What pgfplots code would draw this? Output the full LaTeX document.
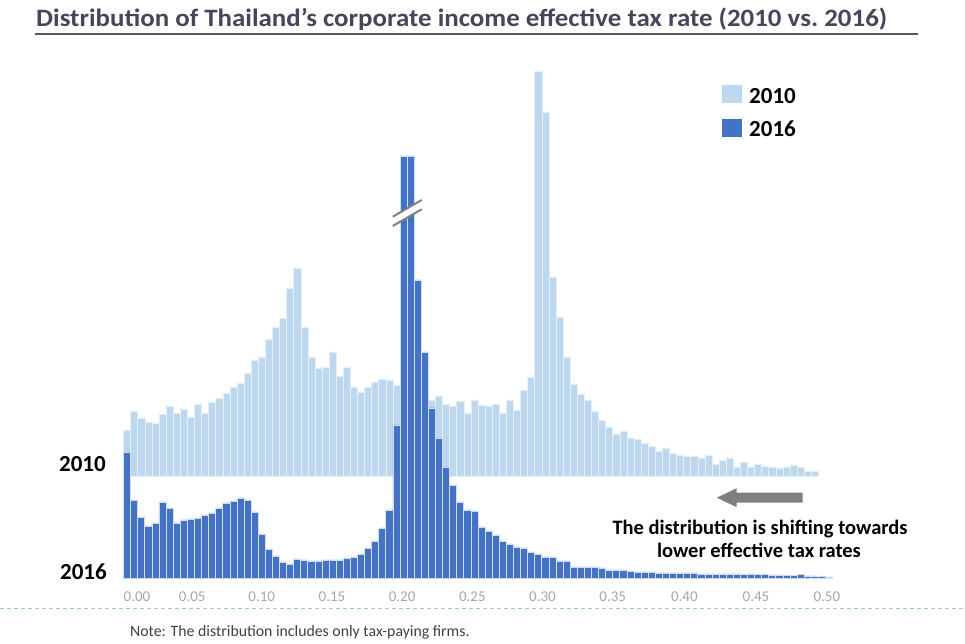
\documentclass[border=0pt]{standalone}
\usepackage{pgfplots}
\pgfplotsset{compat=1.18}
\usepackage{pgfplotstable}
\usepackage{fontspec}
\setmainfont{Carlito}
\definecolor{lightbar}{HTML}{BDD7EE}
\definecolor{darkbar}{HTML}{4472C4}
\definecolor{titlecol}{HTML}{44475A}
\definecolor{tickcol}{HTML}{A6A6A6}
\definecolor{dashcol}{HTML}{9DC3E6}
\definecolor{arrowcol}{HTML}{7F7F7F}

% bin index, height (2010)
\pgfplotstableread{
k h
0 46
1 65
2 58
3 54
4 53
5 62
6 70
7 63
8 67
9 59
10 72
11 63
12 74
13 78
14 83
15 89
16 93
17 103
18 116
19 119
20 137
21 149
22 158
23 188
24 208
25 149
26 119
27 108
28 109
29 124
30 100
31 109
32 89
33 84
34 89
35 94
36 97
37 96
38 91
39 88
40 86
41 84
42 80
43 76
44 80
45 72
46 70
47 75
48 63
49 76
50 71
51 70
52 72
53 63
54 76
55 66
56 86
57 99
58 405
59 364
60 199
61 159
62 119
63 92
64 82
65 76
66 65
67 56
68 49
69 42
70 45
71 38
72 37
73 33
74 30
75 25
76 28
77 23
78 21
79 20
80 20
81 18
82 21
83 12
84 16
85 18
86 9
87 14
88 9
89 12
90 10
91 9
92 8
93 9
94 11
95 9
96 5
97 5
}\tenten

% bin index, height (2016)
\pgfplotstableread{
k h
0 126
1 78
2 61
3 52
4 55
5 76
6 70
7 55
8 58
9 59
10 60
11 63
12 65
13 70
14 75
15 77
16 80
17 78
18 66
19 44
20 29
21 22
22 16
23 14
24 19
25 18
26 17
27 17
28 18
29 18
30 18
31 20
32 21
33 24
34 30
35 37
36 50
37 68
38 153
39 422
40 422
41 298
42 226
43 170
44 140
45 111
46 93
47 76
48 68
49 67
50 51
51 47
52 43
53 37
54 34
55 31
56 30
57 26
58 24
59 21
60 21
61 17
62 17
63 11
64 11
65 11
66 11
67 10
68 8
69 8
70 8
71 7
72 6
73 6
74 6
75 5
76 5
77 5
78 5
79 5
80 5
81 4
82 4
83 4
84 4
85 4
86 4
87 3.5
88 4
89 3.5
90 3.5
91 3
92 3
93 2.5
94 2.5
95 3.5
96 2
97 2
98 1.5
99 1
}\tensixteen

\begin{document}
\begin{tikzpicture}[x=1pt,y=1pt]
\useasboundingbox (0,0) rectangle (965,644);

% title
\node[anchor=base west, inner sep=0pt, text=titlecol, xscale=1.076, transform shape,
      font=\fontsize{25}{30}\selectfont\bfseries] at (36,617.3)
  {Distribution of Thailand’s corporate income effective tax rate (2010 vs.\ 2016)};
\draw[line width=1.7pt, color=black!65] (35,609.8) -- (918,609.8);

% 2010 histogram
\begin{axis}[
  at={(123.5pt,168pt)}, anchor=south west,
  scale only axis, width=716.1pt, height=420pt,
  xmin=-0.5, xmax=100.5, ymin=0, ymax=420,
  hide axis, clip=false,
]
\addplot[ybar, bar width=1, bar shift=0pt, fill=lightbar, draw=white!60!lightbar, line width=0.5pt]
  table[x=k, y=h] {\tenten};
\end{axis}

% 2016 histogram
\begin{axis}[
  at={(123.5pt,66pt)}, anchor=south west,
  scale only axis, width=716.1pt, height=430pt,
  xmin=-0.5, xmax=100.5, ymin=0, ymax=430,
  clip=false,
  axis line style={draw=none},
  ytick=\empty,
  major tick length=0pt,
  xtick={1.4,9.2,19,28.9,38.8,48.7,58.6,68.5,78.6,88.7,98.7},
  xticklabels={0.00,0.05,0.10,0.15,0.20,0.25,0.30,0.35,0.40,0.45,0.50},
  xticklabel style={anchor=north, inner sep=0pt, yshift=-13.7pt, text=tickcol, font=\fontsize{15}{18}\selectfont},
]
\addplot[ybar, bar width=1, bar shift=0pt, fill=darkbar, draw=white!75!darkbar, line width=0.7pt]
  table[x=k, y=h] {\tensixteen};
% axis break mark on the truncated bars
\fill[white] (axis cs:37.47,361.3) -- (axis cs:41.56,378) -- (axis cs:41.56,368.7) -- (axis cs:37.47,352) -- cycle;
\draw[line width=2pt, color=arrowcol] (axis cs:37.47,361.3) -- (axis cs:41.56,378);
\draw[line width=2pt, color=arrowcol] (axis cs:37.47,352) -- (axis cs:41.56,368.7);
\end{axis}

% legend
\fill[lightbar] (721.7,540.7) rectangle (741.7,559);
\fill[darkbar] (721.7,506.7) rectangle (741.7,525);
\node[anchor=base west, inner sep=0pt, font=\fontsize{23}{27}\selectfont\bfseries] at (749,540.7) {2010};
\node[anchor=base west, inner sep=0pt, font=\fontsize{23}{27}\selectfont\bfseries] at (749,507.3) {2016};

% series labels on the left
\node[anchor=base east, inner sep=0pt, font=\fontsize{23}{27}\selectfont\bfseries] at (106,172.3) {2010};
\node[anchor=base east, inner sep=0pt, font=\fontsize{23}{27}\selectfont\bfseries] at (107,64) {2016};

% arrow
\fill[arrowcol] (802.7,141.3) -- (736.7,141.3) -- (736.7,136.8) -- (716.7,146.3) -- (736.7,155.8) -- (736.7,151.3) -- (802.7,151.3) -- cycle;

% annotation
\node[anchor=base, inner sep=0pt, font=\fontsize{20.5}{24}\selectfont\bfseries] at (760,109) {The distribution is shifting towards};
\node[anchor=base, inner sep=0pt, font=\fontsize{20.5}{24}\selectfont\bfseries] at (759,86) {lower effective tax rates};

% dashed separator
\draw[dashcol, line width=1pt, dash pattern=on 4pt off 3pt] (0,35.7) -- (965,35.7);

% note
\node[anchor=base west, inner sep=0pt, text=black!75, font=\fontsize{15.8}{19}\selectfont] at (130,7.3)
  {Note: The distribution includes only tax-paying firms.};
\end{tikzpicture}
\end{document}
